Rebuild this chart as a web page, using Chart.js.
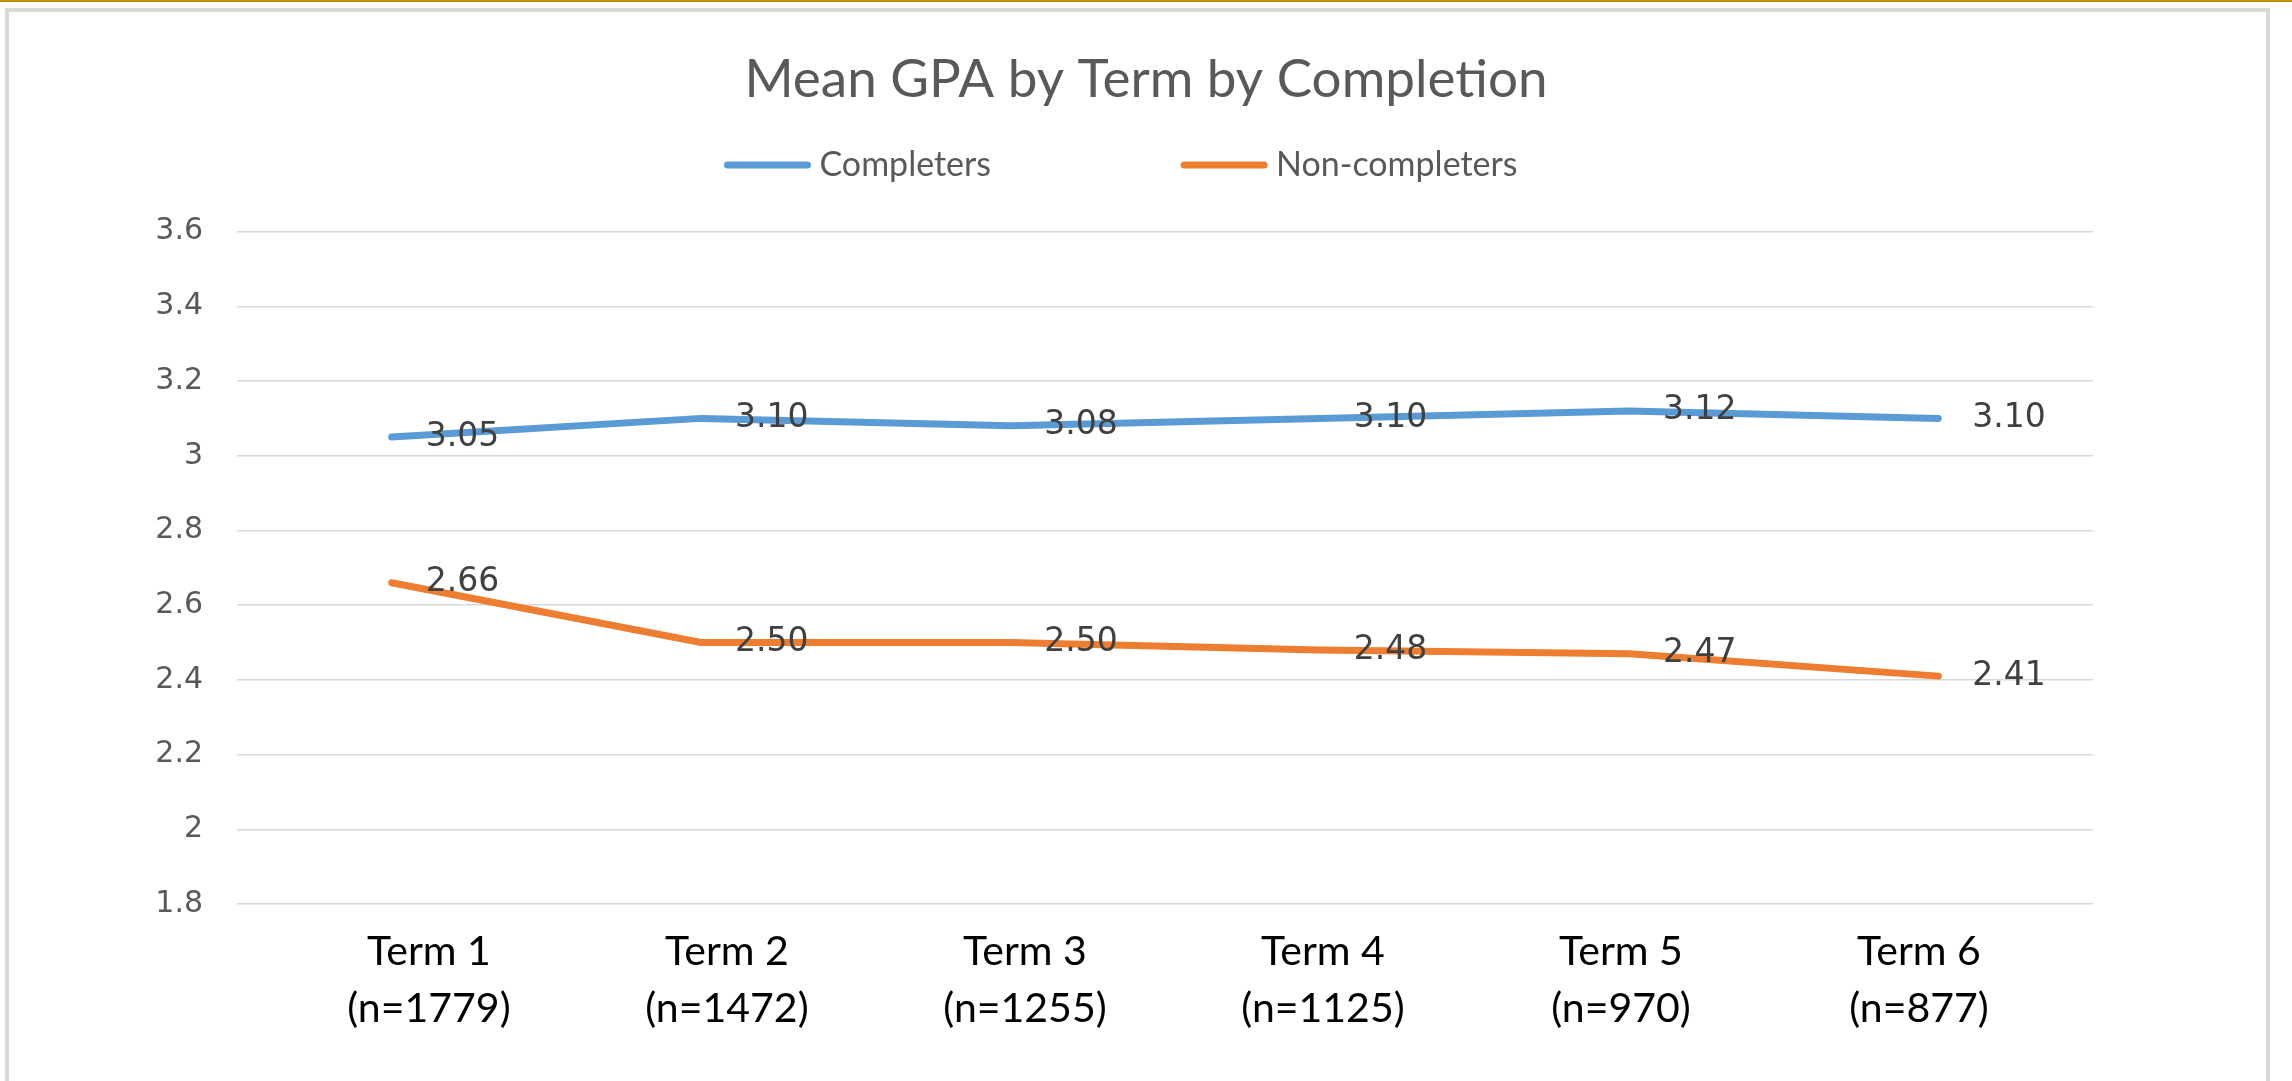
<!DOCTYPE html>
<html>
<head>
<meta charset="utf-8">
<title>Mean GPA by Term by Completion</title>
<script src="https://cdn.jsdelivr.net/npm/chart.js@4.4.0/dist/chart.umd.min.js"></script>
<style>
    html, body { margin: 0; padding: 0; background: #fff; width: 2292px; height: 1081px; overflow: hidden; }
    #topline { position: absolute; left: 0; top: 0; width: 2292px; height: 2px; background: #bf9000; }
    #frame { position: absolute; left: 5px; top: 8px; width: 2257px; height: 1100px; border: 4px solid #d9d9d9; border-bottom: none; }
    #chart { position: absolute; left: 0; top: 0; }
</style>
</head>
<body>
<div id="topline"></div>
<div id="frame"></div>
<canvas id="chart" width="2292" height="1081"></canvas>
<script>
const terms = ['Term 1', 'Term 2', 'Term 3', 'Term 4', 'Term 5', 'Term 6'];
const termCounts = [1779, 1472, 1255, 1125, 970, 877];
const completers = [3.05, 3.10, 3.08, 3.10, 3.12, 3.10];
const nonCompleters = [2.66, 2.50, 2.50, 2.48, 2.47, 2.41];
const seriesNames = ['Completers', 'Non-completers'];
const seriesColors = ['#5b9bd5', '#ed7d31'];
const yMin = 1.8;
const yMax = 3.6;
const yStep = 0.2;

const labels = terms.map((t, i) => [t, '(n=' + termCounts[i] + ')']);

// value labels to the right of each point, like Excel's "Right" position
const pointLabels = {
    id: 'pointLabels',
    afterDatasetsDraw(chart) {
        const ctx = chart.ctx;
        ctx.save();
        ctx.font = '33px "DejaVu Sans"';
        ctx.fillStyle = '#404040';
        ctx.textAlign = 'left';
        ctx.textBaseline = 'middle';
        chart.data.datasets.forEach((ds, i) => {
            chart.getDatasetMeta(i).data.forEach((pt, j) => {
                ctx.fillText(ds.data[j].toFixed(2), pt.x + 34, pt.y);
            });
        });
        ctx.restore();
    }
};

// legend with long line swatches and wide spacing between items
const lineLegend = {
    id: 'lineLegend',
    afterDraw(chart) {
        const ctx = chart.ctx;
        const y = 165, lineLen = 86, gap = 9, itemGap = 190, centerX = 1121;
        ctx.save();
        ctx.font = '34px Lato';
        const widths = chart.data.datasets.map(ds => ctx.measureText(ds.label).width);
        const total = widths.reduce((s, w) => s + lineLen + gap + w, 0) + itemGap * (widths.length - 1);
        let x = centerX - total / 2;
        chart.data.datasets.forEach((ds, i) => {
            ctx.strokeStyle = ds.borderColor;
            ctx.lineWidth = 7;
            ctx.lineCap = 'round';
            ctx.beginPath();
            ctx.moveTo(x + 3, y);
            ctx.lineTo(x + lineLen - 3, y);
            ctx.stroke();
            ctx.fillStyle = '#595959';
            ctx.textAlign = 'left';
            ctx.textBaseline = 'middle';
            ctx.fillText(ds.label, x + lineLen + gap, y);
            x += lineLen + gap + widths[i] + itemGap;
        });
        ctx.restore();
    }
};

const makeSeries = (name, data, color) => ({
    label: name,
    data: data,
    borderColor: color,
    backgroundColor: color,
    borderWidth: 7,
    borderCapStyle: 'round',
    borderJoinStyle: 'round',
    pointRadius: 0,
    pointHoverRadius: 0,
    tension: 0,
    fill: false
});

new Chart(document.getElementById('chart'), {
    type: 'line',
    data: {
        labels: labels,
        datasets: [
            makeSeries(seriesNames[0], completers, seriesColors[0]),
            makeSeries(seriesNames[1], nonCompleters, seriesColors[1])
        ]
    },
    options: {
        responsive: false,
        animation: false,
        devicePixelRatio: 1,
        events: [],
        layout: { padding: 0 },
        plugins: {
            legend: { display: false },
            tooltip: { enabled: false },
            title: {
                display: true,
                text: 'Mean GPA by Term by Completion',
                color: '#595959',
                font: { family: 'Lato', size: 53, weight: 'normal', lineHeight: 1.2 },
                padding: { top: 48, bottom: 120 }
            }
        },
        scales: {
            x: {
                offset: true,
                grid: { display: false },
                border: { display: false },
                ticks: { display: false },
                afterFit(scale) { scale.height = 0; }
            },
            // the term labels sit a little closer together than the points, as in the original
            termAxis: {
                type: 'linear',
                position: 'bottom',
                min: -0.644,
                max: 5.584,
                grid: { display: false },
                border: { display: false },
                afterBuildTicks(scale) {
                    scale.ticks = terms.map((t, i) => ({ value: i }));
                },
                ticks: {
                    color: '#000',
                    font: { family: 'Lato', size: 41, lineHeight: 1.39 },
                    padding: 11,
                    autoSkip: false,
                    maxRotation: 0,
                    callback: v => labels[v]
                },
                afterFit(scale) { scale.height = 177; }
            },
            y: {
                min: yMin,
                max: yMax,
                grid: { color: '#d9d9d9', lineWidth: 1.5, drawTicks: false },
                border: { display: false },
                ticks: {
                    stepSize: yStep,
                    color: '#595959',
                    font: { family: 'DejaVu Sans', size: 30 },
                    padding: 34,
                    callback: v => String(parseFloat(v.toFixed(1)))
                },
                afterFit(scale) { scale.width = 237; }
            },
            // empty right-hand axis, only reserves the margin right of the plot
            yRight: {
                position: 'right',
                min: yMin,
                max: yMax,
                grid: { display: false },
                border: { display: false },
                ticks: { display: false },
                afterFit(scale) { scale.width = 199; }
            }
        }
    },
    plugins: [pointLabels, lineLegend]
});
</script>
</body>
</html>
